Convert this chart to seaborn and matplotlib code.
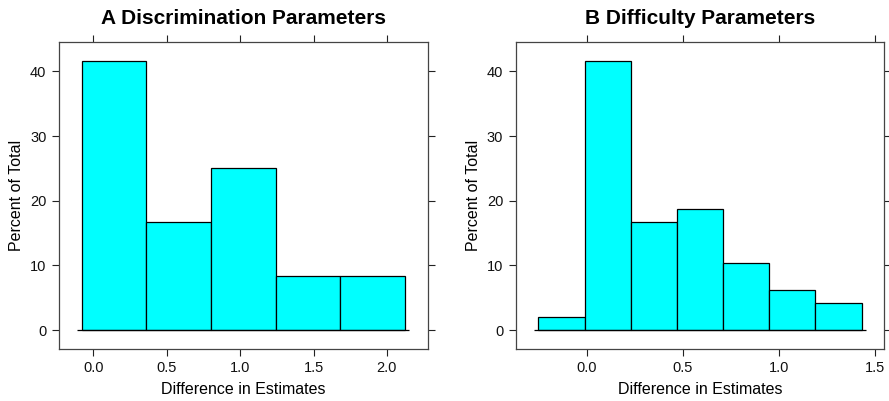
import numpy as np
import pandas as pd
import matplotlib
matplotlib.use('Agg')
import matplotlib.pyplot as plt
import seaborn as sns

# bin edges and counts
disc_edges = [-0.079, 0.3615, 0.802, 1.2425, 1.683, 2.1235]
disc_counts = [5, 2, 3, 1, 1]

diff_edges = [-0.252, -0.0115, 0.229, 0.4695, 0.710, 0.9505, 1.191, 1.4315]
diff_counts = [1, 20, 8, 9, 5, 3, 2]

titles = ['A Discrimination Parameters', 'B Difficulty Parameters']
xticks_a = [0.0, 0.5, 1.0, 1.5, 2.0]
xticks_b = [0.0, 0.5, 1.0, 1.5]
yticks = [0, 10, 20, 30, 40]

sns.set_style('white')
plt.rcParams['font.family'] = ['Liberation Sans', 'DejaVu Sans']
plt.rcParams['text.color'] = 'black'
plt.rcParams['axes.labelcolor'] = 'black'

fig = plt.figure(figsize=(8.89, 4.01), dpi=100)
W, H = 889, 401
ax1 = fig.add_axes([59 / W, (H - 349) / H, (427.7 - 59) / W, (349 - 41.7) / H])
ax2 = fig.add_axes([515.7 / W, (H - 349) / H, (884.3 - 515.7) / W, (349 - 41.7) / H])


def panel(ax, edges, counts, title, xticks):
    e = np.array(edges)
    mids = (e[:-1] + e[1:]) / 2
    df = pd.DataFrame({'x': mids, 'n': counts})
    sns.histplot(data=df, x='x', weights='n', bins=list(edges), stat='percent',
                 color='#00FFFF', edgecolor='black', linewidth=0.9, alpha=1, ax=ax)
    rng = e[-1] - e[0]
    pad = 0.013 * rng
    ax.hlines(0, e[0] - pad, e[-1] + pad, color='black', lw=0.9, zorder=3)
    ymax = max(counts) / sum(counts) * 100
    ax.set_xlim(e[0] - 0.07 * rng, e[-1] + 0.07 * rng)
    ax.set_ylim(-0.07 * ymax, 1.07 * ymax)
    ax.set_xticks(xticks)
    ax.set_xticklabels(['%.1f' % t for t in xticks])
    ax.set_yticks(yticks)
    ax.tick_params(top=True, right=True, labeltop=False, labelright=False,
                   bottom=True, left=True, direction='out', length=5, width=0.8,
                   color='#222222', labelcolor='#111111', labelsize=10.5, pad=4)
    for s in ax.spines.values():
        s.set_color('#444444')
        s.set_linewidth(0.9)
    ax.set_title(title, fontsize=15, fontweight='bold', pad=13)
    ax.set_xlabel('Difference in Estimates', fontsize=11.5, labelpad=5)
    ax.set_ylabel('Percent of Total', fontsize=11.5, labelpad=4.5)


panel(ax1, disc_edges, disc_counts, titles[0], xticks_a)
panel(ax2, diff_edges, diff_counts, titles[1], xticks_b)

fig.savefig('out.png', dpi=100)
